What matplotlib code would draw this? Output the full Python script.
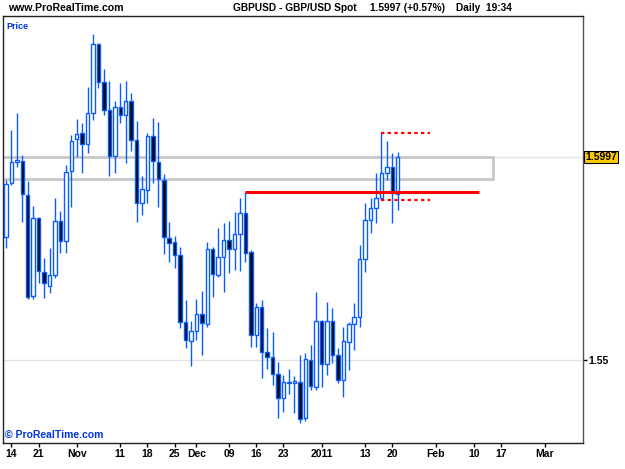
import matplotlib
matplotlib.use("Agg")
import matplotlib.pyplot as plt
import numpy as np
import pandas as pd
from matplotlib.patches import Rectangle

plt.rcParams["font.family"] = ["Liberation Sans", "DejaVu Sans"]

# daily GBP/USD candles, 13 Oct 2010 - 21 Jan 2011
opens = [1.5801, 1.5933, 1.5985, 1.5987, 1.5904, 1.5657, 1.5848, 1.5715, 1.5681, 1.5708,
         1.5840, 1.5791, 1.5963, 1.6041, 1.6056, 1.6029, 1.6105, 1.6274, 1.6181, 1.6112,
         1.5999, 1.6119, 1.6100, 1.6134, 1.6039, 1.5884, 1.5916, 1.6048, 1.5985, 1.5941,
         1.5799, 1.5789, 1.5757, 1.5593, 1.5547, 1.5571, 1.5613, 1.5588, 1.5772, 1.5708,
         1.5752, 1.5794, 1.5772, 1.5808, 1.5860, 1.5764, 1.5561, 1.5630, 1.5520, 1.5507,
         1.5466, 1.5407, 1.5444, 1.5444, 1.5446, 1.5358, 1.5500, 1.5434, 1.5595, 1.5490,
         1.5595, 1.5512, 1.5451, 1.5544, 1.5588, 1.5605, 1.5747, 1.5843, 1.5872, 1.5897,
         1.5958, 1.5972, 1.5906]
highs = [1.5941, 1.6063, 1.6105, 1.6002, 1.5938, 1.5877, 1.5850, 1.5750, 1.5774, 1.5897,
         1.5865, 1.5977, 1.6051, 1.6090, 1.6080, 1.6168, 1.6298, 1.6276, 1.6212, 1.6183,
         1.6134, 1.6178, 1.6183, 1.6154, 1.6085, 1.5950, 1.6056, 1.6092, 1.6083, 1.5955,
         1.5838, 1.5804, 1.5777, 1.5647, 1.5595, 1.5649, 1.5669, 1.5789, 1.5777, 1.5823,
         1.5835, 1.5840, 1.5862, 1.5897, 1.5911, 1.5769, 1.5640, 1.5647, 1.5578, 1.5569,
         1.5495, 1.5463, 1.5478, 1.5461, 1.5512, 1.5517, 1.5537, 1.5666, 1.5598, 1.5642,
         1.5627, 1.5529, 1.5581, 1.5593, 1.5640, 1.5782, 1.5884, 1.5897, 1.5958, 1.6056,
         1.6036, 1.6007, 1.6009]
lows = [1.5774, 1.5928, 1.5972, 1.5838, 1.5649, 1.5649, 1.5688, 1.5652, 1.5664, 1.5701,
        1.5762, 1.5762, 1.5875, 1.5997, 1.5958, 1.6007, 1.6088, 1.6166, 1.6100, 1.5950,
        1.5958, 1.6080, 1.5982, 1.6012, 1.5838, 1.5855, 1.5884, 1.5933, 1.5875, 1.5759,
        1.5740, 1.5725, 1.5578, 1.5529, 1.5485, 1.5549, 1.5512, 1.5581, 1.5654, 1.5703,
        1.5666, 1.5713, 1.5720, 1.5718, 1.5740, 1.5532, 1.5532, 1.5456, 1.5478, 1.5439,
        1.5358, 1.5373, 1.5417, 1.5370, 1.5346, 1.5351, 1.5427, 1.5427, 1.5434, 1.5463,
        1.5493, 1.5444, 1.5409, 1.5476, 1.5524, 1.5581, 1.5715, 1.5811, 1.5835, 1.5892,
        1.5941, 1.5835, 1.5867]
closes = [1.5931, 1.5985, 1.5990, 1.5906, 1.5654, 1.5848, 1.5718, 1.5688, 1.5708, 1.5840,
          1.5791, 1.5960, 1.6036, 1.6053, 1.6029, 1.6105, 1.6274, 1.6181, 1.6112, 1.5999,
          1.6119, 1.6100, 1.6134, 1.6039, 1.5884, 1.5919, 1.6048, 1.5987, 1.5943, 1.5801,
          1.5786, 1.5757, 1.5593, 1.5549, 1.5571, 1.5613, 1.5591, 1.5772, 1.5711, 1.5752,
          1.5794, 1.5772, 1.5808, 1.5860, 1.5762, 1.5561, 1.5630, 1.5520, 1.5507, 1.5466,
          1.5407, 1.5446, 1.5446, 1.5449, 1.5356, 1.5502, 1.5436, 1.5595, 1.5490, 1.5595,
          1.5512, 1.5451, 1.5547, 1.5588, 1.5605, 1.5747, 1.5843, 1.5872, 1.5897, 1.5958,
          1.5972, 1.5909, 1.5997]

last_price = 1.5997
zone_low, zone_high = 1.5943, 1.5997
zone_end = "2011-02-16"
red_level = 1.5912
red_start, red_end = "2010-12-14", "2011-02-11"
dot_high, dot_low = 1.6056, 1.5892
dot_start, dot_end = "2011-01-18", "2011-01-31"

tick_dates = ["2010-10-14", "2010-10-21", "2010-11-01", "2010-11-11", "2010-11-18",
              "2010-11-25", "2010-12-01", "2010-12-09", "2010-12-16", "2010-12-23",
              "2011-01-03", "2011-01-13", "2011-01-20", "2011-02-01", "2011-02-10",
              "2011-02-17", "2011-03-01"]
tick_labels = ["14", "21", "Nov", "11", "18", "25", "Dec", "09", "16", "23",
               "2011", "13", "20", "Feb", "10", "17", "Mar"]

days = pd.bdate_range("2010-10-13", periods=110)


def idx(d):
    return days.get_loc(pd.Timestamp(d))


BLUE = "#0a5cff"
W, H = 625, 469
fig = plt.figure(figsize=(W / 100, H / 100), dpi=100)
ax = fig.add_axes([3 / W, 26 / H, 580 / W, 427 / H])

# candles
for i, (o, h, l, c) in enumerate(zip(opens, highs, lows, closes)):
    up = c >= o
    ax.vlines(i, l, min(o, c), color=BLUE, lw=1, zorder=3)
    ax.vlines(i, max(o, c), h, color=BLUE, lw=1, zorder=3)
    body = max(abs(c - o), 0.00006)
    ax.add_patch(Rectangle((i - 0.32, min(o, c)), 0.64, body,
                           facecolor="white" if up else "#000814",
                           edgecolor=BLUE, lw=1, zorder=4))

# reference lines
ax.axhline(1.55, color="#e2e2e2", lw=1, zorder=1)
ax.axhline(last_price, color="#e2e2e2", lw=1, zorder=1)
ax.add_patch(Rectangle((-1, zone_low), idx(zone_end) + 1 - 0.4, zone_high - zone_low,
                       facecolor="none", edgecolor="#c8c8c8", lw=2, zorder=2))
ax.hlines(red_level, idx(red_start), idx(red_end), color="#ff0000", lw=2.2, zorder=5)
for lvl in (dot_high, dot_low):
    ax.hlines(lvl, idx(dot_start), idx(dot_end), color="#ff0000", lw=1.6,
              linestyles=(0, (1.5, 1.5)), zorder=5)

ax.set_xlim(-0.55, 106.05)
ax.set_ylim(1.52968, 1.63421)

ax.set_xticks([idx(d) for d in tick_dates])
ax.set_xticklabels(tick_labels, fontsize=7.5, fontweight="bold")
ax.tick_params(axis="x", length=3, width=1, pad=1.5, colors="black")
ax.set_yticks([1.55, last_price])
ax.yaxis.tick_right()
ax.tick_params(axis="y", length=3, width=1, pad=1, labelsize=7.5)
ax.set_yticklabels(["1.55", ""], fontweight="bold")
for s in ax.spines.values():
    s.set_color("#222222")
    s.set_linewidth(1)
ax.spines["right"].set_color("#555555")

ax.text(1.004, (last_price - 1.52968) / (1.63421 - 1.52968), "1.5997",
        transform=ax.transAxes, fontsize=7.5, fontweight="bold", va="center", ha="left",
        bbox=dict(boxstyle="square,pad=0.12", facecolor="#ffcc00", edgecolor="black", lw=0.8))

ax.text(0.006, 0.985, "Price", transform=ax.transAxes, color="#0033dd", fontsize=6.5,
        fontweight="bold", va="top", ha="left")
ax.text(0.004, 0.008, "\u00a9 ProRealTime.com", transform=ax.transAxes, color="#0033dd",
        fontsize=7.5, fontweight="bold", va="bottom", ha="left")

fig.text(8 / W, 1 - 8 / H, "www.ProRealTime.com", fontsize=7.6, fontweight="bold",
         va="center", ha="left")
fig.text(233 / W, 1 - 8 / H, "GBPUSD - GBP/USD Spot", fontsize=7.3, fontweight="bold",
         va="center", ha="left")
fig.text(370 / W, 1 - 8 / H, "1.5997 (+0.57%)", fontsize=7.3, fontweight="bold",
         va="center", ha="left")
fig.text(456 / W, 1 - 8 / H, "Daily  19:34", fontsize=7.3, fontweight="bold",
         va="center", ha="left")

fig.savefig("out.png", dpi=100)
